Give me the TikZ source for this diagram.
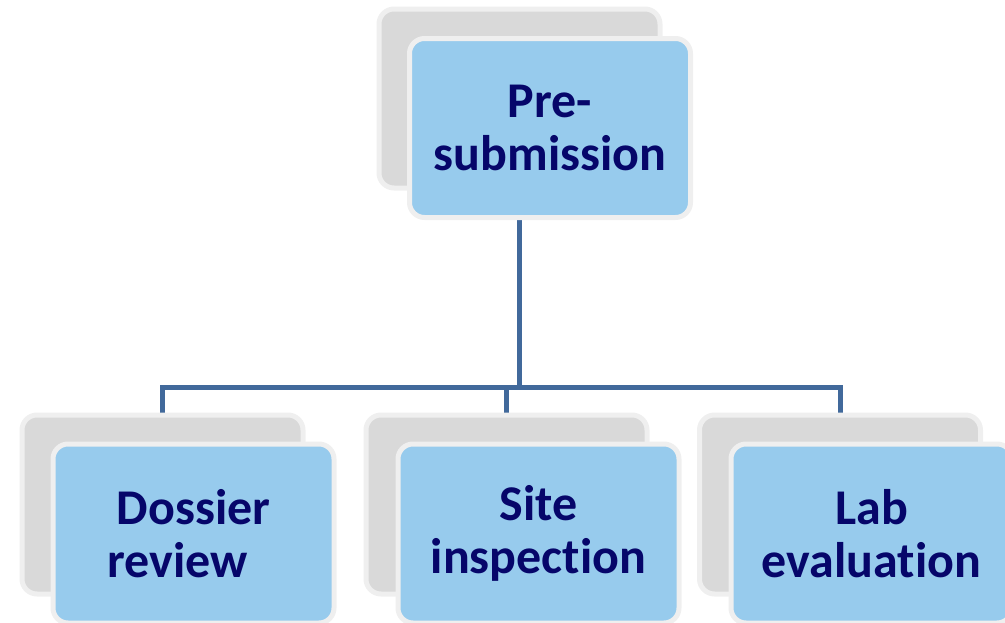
\documentclass[tikz,border=0pt]{standalone}
\usepackage{fontspec}
\setmainfont[RawFeature={-liga;-clig;-calt;-dlig}]{Carlito}
\usetikzlibrary{backgrounds}
\definecolor{boxblue}{HTML}{97CBED}
\definecolor{boxgray}{HTML}{D9D9D9}
\definecolor{rimgray}{HTML}{EFEFEF}
\definecolor{navytext}{HTML}{06066A}
\definecolor{linkblue}{HTML}{41699B}
\begin{document}
\begin{tikzpicture}[x=1pt,y=-1pt,
  shadowbox/.style={draw=rimgray, line width=5pt, fill=boxgray, rounded corners=15pt,
    minimum width=281pt, minimum height=179pt, inner sep=0pt},
  frontbox/.style={draw=rimgray, line width=5pt, fill=boxblue, rounded corners=15pt,
    minimum width=281pt, minimum height=179pt, inner sep=0pt, align=center,
    font=\fontsize{50}{53}\selectfont\bfseries, text=navytext},
  link/.style={draw=linkblue, line width=5pt}]
\clip (0,0) rectangle (1005,622);
% top
\node[shadowbox] (tg) at (519.5,98.5) {};
\node[frontbox] (tb) at (550,128) {Pre-\\submission};
% bottom
\node[shadowbox] (lg) at (162.5,504.5) {};
\node[frontbox] (lb) at (193.5,533.5) {Dossier\\review\hspace*{32pt}};
\node[shadowbox] (mg) at (506.5,504.5) {};
\node[frontbox] (mb) at (538.5,533.5) {Site\\inspection};
\node[shadowbox] (rg) at (840,504.5) {};
\node[frontbox] (rb) at (871.5,533.5) {Lab\\evaluation};
\coordinate (bus) at (519.5,387);
\begin{scope}[on background layer]
\draw[link] (tg.south) -- (tg.south |- bus);
\draw[link] (lg.north) |- (rg.north |- bus) -- (rg.north);
\draw[link] (mg.north) -- (mg.north |- bus);
\end{scope}
\end{tikzpicture}
\end{document}
